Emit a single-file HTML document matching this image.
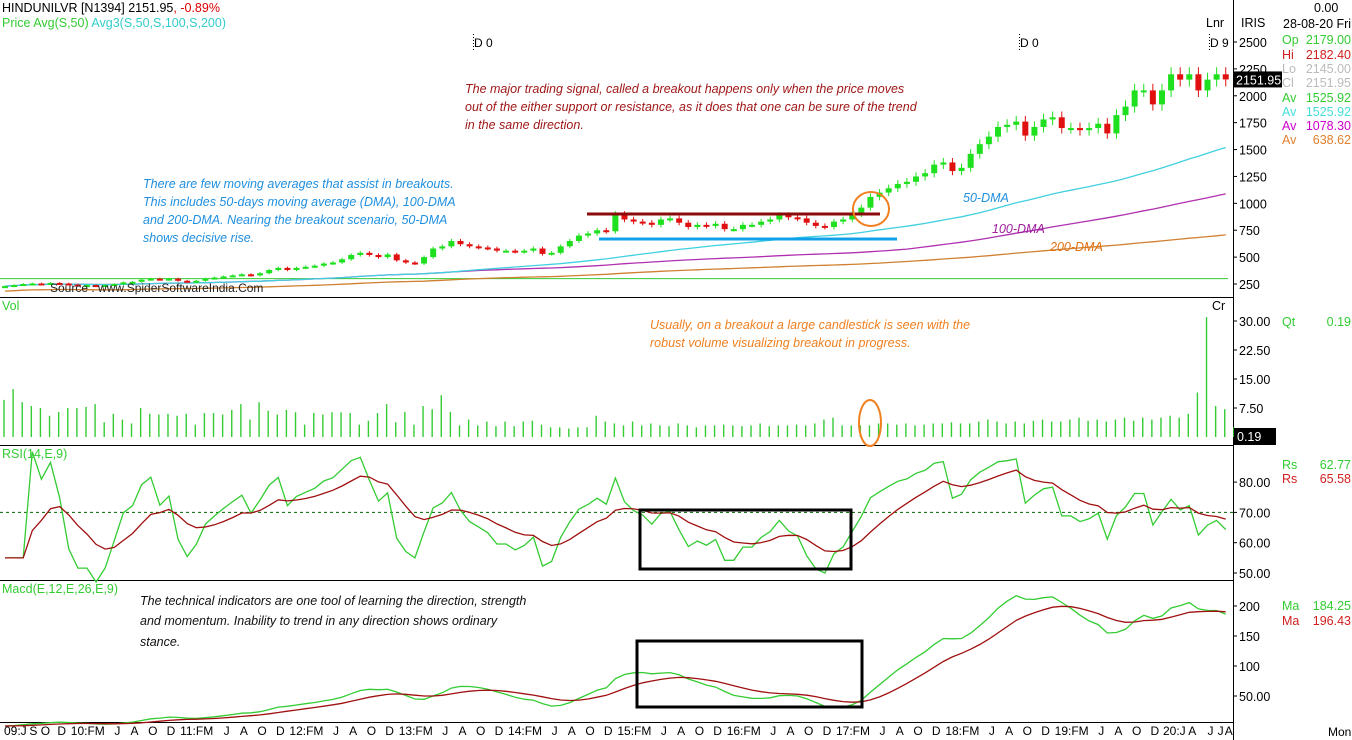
<!DOCTYPE html>
<html><head><meta charset="utf-8"><style>
html,body{margin:0;padding:0;background:#fff;}
svg{display:block;font-family:"Liberation Sans","DejaVu Sans",sans-serif;}
.ann{font-style:italic;font-size:12.5px;}
</style></head><body>
<svg id="chart" width="1352" height="740" viewBox="0 0 1352 740" xmlns="http://www.w3.org/2000/svg">
<g id="frame">
<line x1="1233.5" y1="0" x2="1233.5" y2="740" stroke="#000"/>
<line x1="0" y1="297.5" x2="1233" y2="297.5" stroke="#000"/>
<line x1="0" y1="445.5" x2="1233" y2="445.5" stroke="#000"/>
<line x1="0" y1="580.5" x2="1233" y2="580.5" stroke="#000"/>
<line x1="0" y1="722.5" x2="1233" y2="722.5" stroke="#000"/>
</g>
<g id="header" font-size="12.5">
<text x="2" y="12" fill="#000">HINDUNILVR [N1394] 2151.95<tspan fill="#d00">,  -0.89%</tspan></text>
<text x="2" y="27" fill="#3c3">Price  Avg(S,50)  <tspan fill="#3cc">Avg3(S,50,S,100,S,200)</tspan></text>
<text x="2" y="310" fill="#3c3">Vol</text>
<text x="2" y="458" fill="#3c3">RSI(14,E,9)</text>
<text x="2" y="593" fill="#3c3">Macd(E,12,E,26,E,9)</text>
<text x="1206" y="27" fill="#000">Lnr</text>
<text x="1212" y="310" fill="#000">Cr</text>
<text x="1241" y="27" fill="#000">IRIS</text>
<text x="1314" y="12" fill="#000">0.00</text>
<text x="1283" y="28" fill="#000">28-08-20 Fri</text>
</g>
<g id="info" font-size="12.5"></g>
<g id="axes" font-size="12.5"></g>
<g id="price"></g>
<g id="vol"></g>
<g id="rsi"></g>
<g id="macd"></g>
<g id="xaxis" font-size="12"></g>
<g id="annotations">
<text x="474" y="47" font-size="12">D 0</text>
<line x1="473.5" y1="34" x2="473.5" y2="52" stroke="#000" stroke-dasharray="1,2"/>
<text x="1020" y="47" font-size="12">D 0</text>
<line x1="1019.5" y1="34" x2="1019.5" y2="52" stroke="#000" stroke-dasharray="1,2"/>
<text x="1210" y="47" font-size="12">D 9</text>
<line x1="1209.5" y1="34" x2="1209.5" y2="52" stroke="#000" stroke-dasharray="1,2"/>
<g class="ann" fill="#a01818">
<text x="465" y="93">The major trading signal, called a breakout happens only when the price moves</text>
<text x="465" y="111">out of the either support or resistance, as it does that one can be sure of the trend</text>
<text x="465" y="129">in the same direction.</text></g>
<g class="ann" fill="#1f8fe0">
<text x="143" y="188">There are few moving averages that assist in breakouts.</text>
<text x="143" y="206">This includes 50-days moving average (DMA), 100-DMA</text>
<text x="143" y="224">and 200-DMA. Nearing the breakout scenario, 50-DMA</text>
<text x="143" y="242">shows decisive rise.</text></g>
<text class="ann" x="963" y="202" fill="#1f8fe0">50-DMA</text>
<text class="ann" x="992" y="233" fill="#a020a0">100-DMA</text>
<text class="ann" x="1050" y="251" fill="#e07010">200-DMA</text>
<text x="50" y="292" font-size="12" fill="#222">Source : www.SpiderSoftwareIndia.Com</text>
<g class="ann" fill="#f08020">
<text x="650" y="329">Usually, on a breakout a large candlestick is seen with the</text>
<text x="650" y="347">robust volume visualizing breakout in progress.</text></g>
<g class="ann" fill="#111">
<text x="140" y="605">The technical indicators are one tool of learning the direction, strength</text>
<text x="140" y="625">and momentum. Inability to trend in any direction shows ordinary</text>
<text x="140" y="646">stance.</text></g>
<line x1="587" y1="214" x2="880" y2="214" stroke="#8b0a0a" stroke-width="3"/>
<line x1="599" y1="239" x2="897" y2="239" stroke="#10a0e8" stroke-width="3"/>
<ellipse cx="871" cy="209" rx="18" ry="17" fill="none" stroke="#f08020" stroke-width="2"/>
<ellipse cx="870" cy="423" rx="11" ry="23" fill="none" stroke="#f08020" stroke-width="2"/>
<rect x="640" y="510" width="211" height="59" fill="none" stroke="#000" stroke-width="3"/>
<rect x="637" y="641" width="225" height="66" fill="none" stroke="#000" stroke-width="3"/>
</g>
<script>
const closes=[230,240,250,255,250,260,255,
245,240,240,235,240,250,265,270,290,300,290,300,
280,270,280,300,310,320,330,340,330,350,380,400,
380,400,410,420,440,450,480,520,540,520,500,525,
470,450,440,500,580,600,650,620,600,590,580,560,
560,550,560,580,530,540,600,650,700,720,750,740,
900,850,830,820,800,850,860,820,780,800,790,810,
760,760,800,800,830,850,890,870,860,820,790,780,
830,850,900,960,1060,1100,1140,1180,1200,1250,1280,1360,
1380,1300,1330,1460,1550,1620,1710,1730,1760,1630,1710,1780,
1800,1700,1700,1680,1700,1740,1650,1820,1900,2050,2050,1920,
2050,2200,2150,2200,2050,2150,2200,2152];
const volumes=[9.6,12.4,9,8,7.5,5.5,6.5,7.5,7.5,7.8,8.5,3.8,6,4.5,3.5,7.5,6,5.8,6,5.5,6,3.2,6.2,6.2,5.8,7,8.5,4.5,9,6.8,5.8,7,6.4,3.2,6.2,5.8,6.4,6.4,6.2,3.2,4.2,6.2,8.5,3.8,6.5,3.2,8,7.2,10.8,6.5,3,4.5,3,4,2.8,4,2.8,4,4.2,3.2,2.5,2.5,2.2,2.5,2.5,5.5,4,3.5,3,4,3,3.5,3,2.8,3.5,3,2.5,3,3,3.2,3,2.8,3,3.5,2.8,3,3,3.2,3,3.5,4.5,5,3,3,3,3,3.5,3.5,3.2,3.5,3,3.2,3.5,3.5,3.8,3.5,3.5,4,4.5,4,3.5,4,3.5,4.2,4.5,4,4,4.5,5,4.2,4.5,4,4.5,5,4.2,5,4.5,5,5.5,5,6,11.5,31,8,7.2,2.5];
const priceTicks=[2500,2250,2000,1750,1500,1250,1000,750,500,250];
const volTicks=[30,22.5,15,7.5];
const rsiTicks=[80,70,60,50];
const macdTicks=[200,150,100,50];
const macdTickText=["200","150","100","50.00"];
const NS="http://www.w3.org/2000/svg";
function el(t,a,p){const e=document.createElementNS(NS,t);for(const k in a)e.setAttribute(k,a[k]);p.appendChild(e);return e;}
const X=i=>5+i*9.11;
const PY=p=>42+(2500-p)*242/2250;
const VY=v=>437-v*29/7.5;
const RY=r=>573-(r-50)*3.03;
const MY=m=>726-m*0.6;
function sma(n){return closes.map((c,i)=>{const s=Math.max(0,i-n+1);let t=0;for(let j=s;j<=i;j++)t+=closes[j];return t/(i-s+1);});}
function ema(arr,n){const k=2/(n+1);let e=arr[0];return arr.map(v=>e=v*k+e*(1-k));}
const ma50=sma(50),ma100=sma(100),ma200=sma(200).map(v=>v*0.8);
const ema12=ema(closes,12),ema26=ema(closes,26);
const macdLine=ema12.map((v,i)=>v-ema26[i]);
const macdSig=ema(macdLine,9);
let ag=0,al=0;const rsi=closes.map((c,i)=>{if(i===0)return 55;const d=c-closes[i-1];ag=(ag*13+Math.max(d,0))/14;al=(al*13+Math.max(-d,0))/14;if(i<3)return 55;return 100-100/(1+ag/(al||1e-6));});
const rsiSig=ema(rsi,9);
const axes=document.getElementById('axes');
function tick(y,txt){el('line',{x1:1233,y1:y,x2:1237,y2:y,stroke:'#000'},axes);const t=el('text',{x:1239,y:y+5},axes);t.textContent=txt;

}
priceTicks.forEach(p=>tick(PY(p),p));
volTicks.forEach(v=>tick(VY(v),v.toFixed(2)));
rsiTicks.forEach(v=>tick(RY(v),v.toFixed(2)));
macdTicks.forEach((v,i)=>tick(MY(v),macdTickText[i]));
const pg=document.getElementById('price');
el('line',{x1:0,y1:PY(300),x2:1228,y2:PY(300),stroke:'#3c3'},pg);
function line(arr,yf,col,g,name){const d=arr.map((v,i)=>(i?'L':'M')+X(i).toFixed(1)+' '+yf(v).toFixed(1)).join('');const p=el('path',{d:d,fill:'none',stroke:col,'stroke-width':1.3},g);

}
line(ma200,PY,'#d08030',pg,'ma200-line');
line(ma100,PY,'#b030b0',pg,'ma100-line');
line(ma50,PY,'#40d0e0',pg,'ma50-line');
closes.forEach((c,i)=>{const o=i?closes[i-1]:c*0.98;const up=c>=o;const col=up?'#1ee01e':'#e01010';
const hi=Math.max(o,c)*1.03,lo=Math.min(o,c)*0.97;
const w=el('line',{x1:X(i),y1:PY(hi),x2:X(i),y2:PY(lo),stroke:col},pg);


const top=PY(Math.max(o,c)),h=Math.max(2,PY(Math.min(o,c))-top);
const b=el('rect',{x:X(i)-3,y:top,width:6,height:h,fill:col},pg);

});
const lastY=PY(2151.95);
el('rect',{x:1234,y:lastY-8,width:48,height:16,fill:'#000'},pg);
const lt=el('text',{x:1236,y:lastY+5,fill:'#fff','font-size':12.5},pg);lt.textContent='2151.95';


const vg=document.getElementById('vol');
volumes.forEach((v,i)=>{const b=el('line',{x1:X(i)-1,y1:VY(v),x2:X(i)-1,y2:437,stroke:'#3c3','stroke-width':1.4},vg);

});
el('rect',{x:1234,y:428,width:42,height:17,fill:'#000'},vg);
const vt=el('text',{x:1237,y:441,fill:'#fff','font-size':12.5},vg);vt.textContent='0.19';


const rg=document.getElementById('rsi');
el('line',{x1:0,y1:RY(70),x2:1233,y2:RY(70),stroke:'#060','stroke-dasharray':'3,3'},rg);
line(rsi.map(v=>Math.max(47,Math.min(90,v))),RY,'#3c3',rg,'rsi-line');
line(rsiSig.map(v=>Math.max(47,Math.min(90,v))),RY,'#a01010',rg,'rsi-signal-line');
const mg=document.getElementById('macd');
line(macdLine,MY,'#3c3',mg,'macd-line');
line(macdSig,MY,'#a01010',mg,'macd-signal-line');
const info=document.getElementById('info');
[['Op','2179.00','#3c3',44],['Hi','2182.40','#d02020',59],['Lo','2145.00','#bbb',73],['Cl','2151.95','#bbb',87],['Av','1525.92','#3c3',102],['Av','1525.92','#4dd',116],['Av','1078.30','#c0c',130],['Av','638.62','#e08030',144],
['Qt','0.19','#3c3',326],['Rs','62.77','#3c3',469],['Rs','65.58','#d02020',483],['Ma','184.25','#3c3',610],['Ma','196.43','#d02020',625]].forEach(r=>{
const a=el('text',{x:1282,y:r[3],fill:r[2]},info);a.textContent=r[0];


const b=el('text',{x:1351,y:r[3],fill:r[2],'text-anchor':'end'},info);b.textContent=r[1];

});
const xg=document.getElementById('xaxis');
function lab(txt,x,anchor){const t=el('text',{x:x,y:735,'text-anchor':anchor||'middle'},xg);t.textContent=txt;

}
lab('09:J',4,'start');lab('S',X(3)+1);lab('O',X(4)+4);lab('D',X(6)+2);
for(let y=10;y<=19;y++){const b=7+(y-10)*12;lab(y+':FM',X(b)+2,'start');lab('J',X(b+5)+3);lab('A',X(b+7)+2);lab('O',X(b+9)+2);lab('D',X(b+11)+2);}
lab('20:J',X(127)+1,'start');lab('A',X(130)+3);lab('J',X(132)+3);lab('J',X(133)+4);lab('A',X(134)+3);
const mt=el('text',{x:1328,y:736,'font-size':12},xg);mt.textContent='Mon';


</script>
</svg>
</body></html>
